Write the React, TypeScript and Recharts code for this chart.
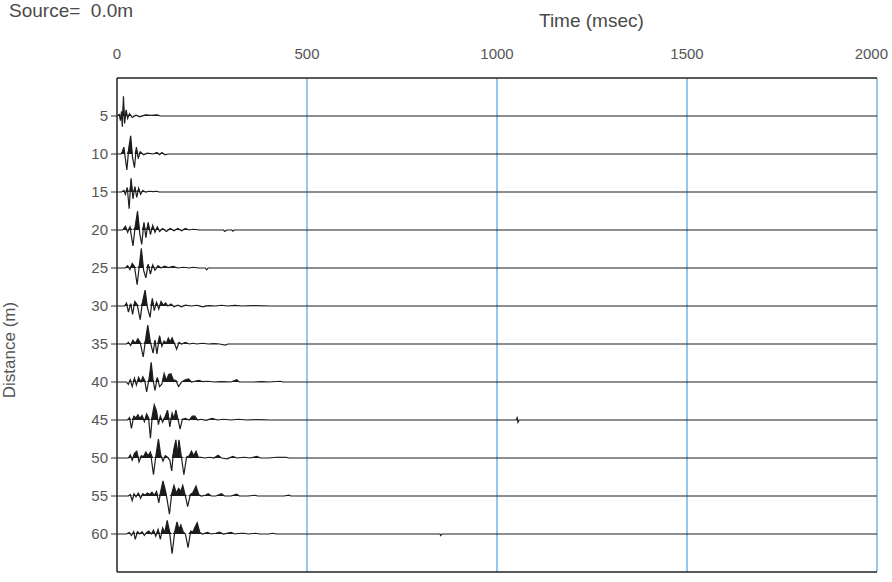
import { ComposedChart, Line, Area, XAxis, YAxis, ReferenceLine } from "recharts";

// source offsets (m), one trace per offset
const distances = [5, 10, 15, 20, 25, 30, 35, 40, 45, 50, 55, 60];
const timeTicks = [0, 500, 1000, 1500, 2000];

// [time msec, amplitude] (amplitude in distance units, up = positive)
const trace05 = [[0,0],[6,0.2],[9,-0.6],[12,0.6],[14,-1.4],[17,2.6],[20,-1.0],[24,0.8],[28,-0.3],[33,0.3],[40,-0.2],[50,0.1],[60,-0.1],[75,0.15],[90,0.1],[105,0.15],[115,0],[2000,0]];
const trace10 = [[0,0],[10,0],[14,0.3],[18,0.9],[22,-0.6],[26,-2.1],[31,0.8],[36,2.4],[41,-0.5],[46,-1.8],[51,0.9],[56,-0.6],[61,0.3],[70,-0.1],[80,0.1],[95,0],[105,0.2],[112,-0.1],[118,0.2],[126,-0.1],[134,0],[2000,0]];
const trace15 = [[0,0],[12,0],[18,0.2],[22,-0.3],[27,0.6],[32,-2.2],[37,1.8],[42,-0.9],[47,0.7],[52,-0.7],[57,0.5],[62,-0.3],[68,0.2],[75,0],[85,0.1],[95,0.05],[105,0.1],[110,0],[2000,0]];
const trace20 = [[0,0],[15,0],[22,0.5],[28,-0.3],[34,0.4],[42,-2.1],[48,0.5],[54,2.5],[60,-0.5],[65,-1.9],[71,1.0],[76,-1.0],[82,1.0],[88,-0.6],[94,0.6],[100,-0.3],[106,0.4],[112,-0.2],[120,0.2],[130,-0.2],[140,0.2],[150,-0.1],[160,0.2],[170,-0.1],[180,0.2],[190,0],[200,0.1],[218,0],[280,0],[284,-0.2],[288,0],[302,0],[305,-0.15],[308,0],[2000,0]];
const trace25 = [[0,0],[22,0],[28,0.3],[34,-0.2],[40,0.6],[46,0.2],[53,-2.2],[59,0.4],[64,2.6],[70,-0.3],[76,-1.3],[82,0.5],[88,-0.8],[94,0.4],[100,-0.3],[108,0.3],[116,0],[125,0.25],[135,0.05],[148,0.2],[160,0],[175,0.1],[190,0],[200,0.1],[215,0],[232,0],[236,-0.25],[240,0],[2000,0]];
const trace30 = [[0,0],[20,0],[25,0.4],[30,-0.8],[36,0.3],[41,-1.1],[47,0.6],[53,0.2],[61,-1.8],[67,0.5],[74,2.1],[80,-0.2],[87,-1.5],[93,1.0],[98,-0.6],[104,0.5],[110,-0.4],[116,0.6],[122,0.1],[128,0.4],[134,0],[142,0.25],[150,-0.1],[160,0.1],[170,-0.1],[180,0.1],[195,0],[210,0.1],[225,-0.1],[240,0.05],[260,0],[275,0.1],[290,0],[310,0.08],[330,0],[360,0.05],[400,0],[2000,0]];
const trace35 = [[0,0],[25,0],[30,0.2],[36,-0.2],[42,0.5],[48,0.1],[55,0.7],[61,0.2],[69,-1.7],[75,0.5],[81,2.5],[88,0.2],[95,-1.2],[100,0.5],[105,-1.3],[112,1.1],[118,-0.3],[124,0.4],[130,0.1],[135,0.8],[140,0.3],[145,0.8],[151,0.1],[157,-0.7],[163,0.2],[170,0],[180,0.2],[190,0],[200,0.1],[210,0],[225,0.1],[240,0],[255,0.05],[270,0],[285,-0.15],[292,0],[2000,0]];
const trace40 = [[0,0],[25,0],[30,-0.3],[35,0.3],[40,-0.6],[46,0.5],[51,-0.4],[57,0.6],[63,0],[68,0.7],[73,0.2],[78,-1.3],[84,0.3],[90,2.6],[95,0.2],[100,-1.1],[106,0.6],[112,-0.6],[118,-0.3],[124,1.1],[130,0.2],[136,1.0],[142,1.1],[148,0.3],[155,0.2],[162,-0.6],[170,0],[180,0.3],[188,0.4],[196,0],[205,0.1],[215,0.2],[225,0.05],[240,0.1],[255,0],[275,0.05],[300,0],[315,0.3],[322,0],[360,0],[380,0.05],[400,0],[430,0.1],[436,0],[2000,0]];
const trace45 = [[0,0],[28,0],[33,0.3],[38,-1.1],[44,0.5],[50,0.3],[55,0.7],[60,0.2],[66,0.6],[72,-0.2],[78,0.8],[83,0.3],[88,-2.4],[93,0.6],[98,2.0],[104,1.2],[109,-0.6],[114,0.5],[120,-0.3],[127,0.5],[133,1.3],[139,-0.9],[145,0.9],[150,0.2],[155,1.3],[160,0.2],[166,-1.2],[172,0.1],[180,0.2],[190,0],[198,0.5],[205,0.5],[212,0],[220,0.1],[235,-0.05],[250,0.2],[265,0],[280,0.1],[300,0],[320,0.1],[340,0],[370,0.05],[400,0],[1050,0],[1053,0.3],[1055,-0.3],[1058,0],[2000,0]];
const trace50 = [[0,0],[30,0],[35,0.4],[40,-0.3],[46,0.6],[52,0.9],[58,-0.5],[64,0.3],[70,0.2],[76,0.8],[82,0.3],[88,0.8],[96,-2.2],[102,0.2],[109,2.5],[115,0.4],[121,-0.4],[127,0.3],[133,0.1],[139,-0.3],[144,-1.7],[149,1.0],[155,2.4],[159,0.4],[163,2.4],[169,0.3],[176,-2.2],[183,0.1],[190,0.3],[196,0.9],[202,0.3],[208,0.9],[214,0.1],[222,0.1],[230,0],[245,0.1],[255,0],[266,0.35],[275,0],[290,-0.1],[305,0.2],[315,0],[335,0.1],[350,0],[368,0.2],[378,0],[400,0],[420,0.1],[445,0.1],[452,0],[2000,0]];
const trace55 = [[0,0],[30,0],[35,0.2],[40,-0.6],[45,0.3],[50,-0.1],[56,0.4],[62,-0.3],[68,0.3],[74,0.1],[80,0.4],[86,0.2],[92,0.5],[98,0.1],[104,0.6],[110,-0.9],[115,0.6],[121,2.0],[127,0.8],[132,-0.5],[138,-2.4],[144,0.3],[150,1.4],[156,0.4],[162,1.0],[168,0.6],[173,1.4],[179,0.2],[186,-1.4],[193,0.2],[199,0.4],[208,1.3],[215,0.2],[222,0],[232,0.1],[240,0.3],[248,0],[260,0],[275,0.3],[283,0],[300,0],[315,0.25],[322,0],[345,0],[363,0.1],[370,0],[440,0],[452,0.1],[458,0],[2000,0]];
const trace60 = [[0,0],[25,0],[32,0.2],[38,-0.2],[44,0.3],[48,-0.7],[54,0.3],[60,0],[66,0.3],[72,-0.2],[78,0.2],[84,0.4],[90,0],[96,0.5],[102,-0.3],[108,0.6],[114,-0.7],[120,0.8],[126,0.2],[132,1.8],[138,0.4],[145,-2.6],[152,0.3],[158,1.6],[163,0.6],[168,1.2],[174,0.3],[180,0],[187,-1.8],[194,0.4],[200,0.3],[206,1.0],[211,1.5],[218,0.2],[225,0],[238,0.2],[248,0],[260,0.1],[270,0.25],[280,0],[300,0.2],[310,0],[325,0.1],[335,0.1],[345,0],[365,0.1],[375,0],[400,0],[410,0.1],[420,0],[850,0],[852,-0.2],[855,0],[2000,0]];

const traces = [trace05, trace10, trace15, trace20, trace25, trace30, trace35, trace40, trace45, trace50, trace55, trace60];

// y axis is reversed, so an upward swing means a smaller distance value
const rows = traces.map((tr, i) =>
  tr.map(([t, a]) => ({ t, y: distances[i] - a, fill: distances[i] - Math.max(a, 0) }))
);

const font = "'Liberation Sans', Arial, sans-serif";

// last time label sits flush with the right edge instead of centred on it
const TimeTick = (props: any) => {
  const { x, y, payload } = props;
  const last = payload.value === timeTicks[timeTicks.length - 1];
  return (
    <text
      x={last ? x + 12 : x}
      y={y}
      textAnchor={last ? "end" : "middle"}
      fill="#555"
      fontSize={15}
      fontFamily={font}
    >
      {payload.value}
    </text>
  );
};

export default function App() {
  return (
    <div style={{ position: "absolute", left: 0, top: 0, width: 892, height: 582, background: "#fff", fontFamily: font, overflow: "hidden" }}>
      <div style={{ position: "absolute", left: 9, top: 0, fontSize: 19, color: "#4a4a4a" }}>Source=&nbsp; 0.0m</div>
      <div style={{ position: "absolute", left: 539, top: 10, fontSize: 19, color: "#4a4a4a" }}>Time (msec)</div>
      <div
        style={{
          position: "absolute",
          left: 10,
          top: 350,
          fontSize: 17,
          color: "#555",
          whiteSpace: "nowrap",
          transform: "translate(-50%, -50%) rotate(-90deg)",
        }}
      >
        Distance (m)
      </div>
      <ComposedChart width={892} height={582} margin={{ top: 38, right: 15, bottom: 10, left: 0 }}>
        <XAxis
          type="number"
          dataKey="t"
          orientation="top"
          domain={[0, 2000]}
          ticks={timeTicks}
          allowDataOverflow
          tickLine={false}
          tickSize={0}
          tickMargin={19}
          height={40}
          axisLine={{ stroke: "#222", strokeWidth: 1.5 }}
          tick={<TimeTick />}
        />
        <YAxis
          type="number"
          domain={[0, 65]}
          reversed
          ticks={distances}
          width={117}
          tickSize={6}
          tickMargin={3}
          allowDataOverflow
          axisLine={{ stroke: "#222", strokeWidth: 1.5 }}
          tickLine={{ stroke: "#333" }}
          tick={{ fill: "#555", fontSize: 15, fontFamily: font }}
        />
        {timeTicks.slice(1).map((t) => (
          <ReferenceLine key={t} x={t} stroke="#72b4e6" strokeWidth={1.5} />
        ))}
        <ReferenceLine y={65} stroke="#222" strokeWidth={1.5} />
        {rows.map((r, i) => (
          <Area
            key={`a${i}`}
            data={r}
            dataKey="fill"
            baseValue={distances[i]}
            type="linear"
            stroke="none"
            fill="#1a1a1a"
            fillOpacity={1}
            isAnimationActive={false}
          />
        ))}
        {rows.map((r, i) => (
          <Line
            key={`l${i}`}
            data={r}
            dataKey="y"
            type="linear"
            stroke="#1e1e1e"
            strokeWidth={1.2}
            dot={false}
            isAnimationActive={false}
          />
        ))}
      </ComposedChart>
    </div>
  );
}
